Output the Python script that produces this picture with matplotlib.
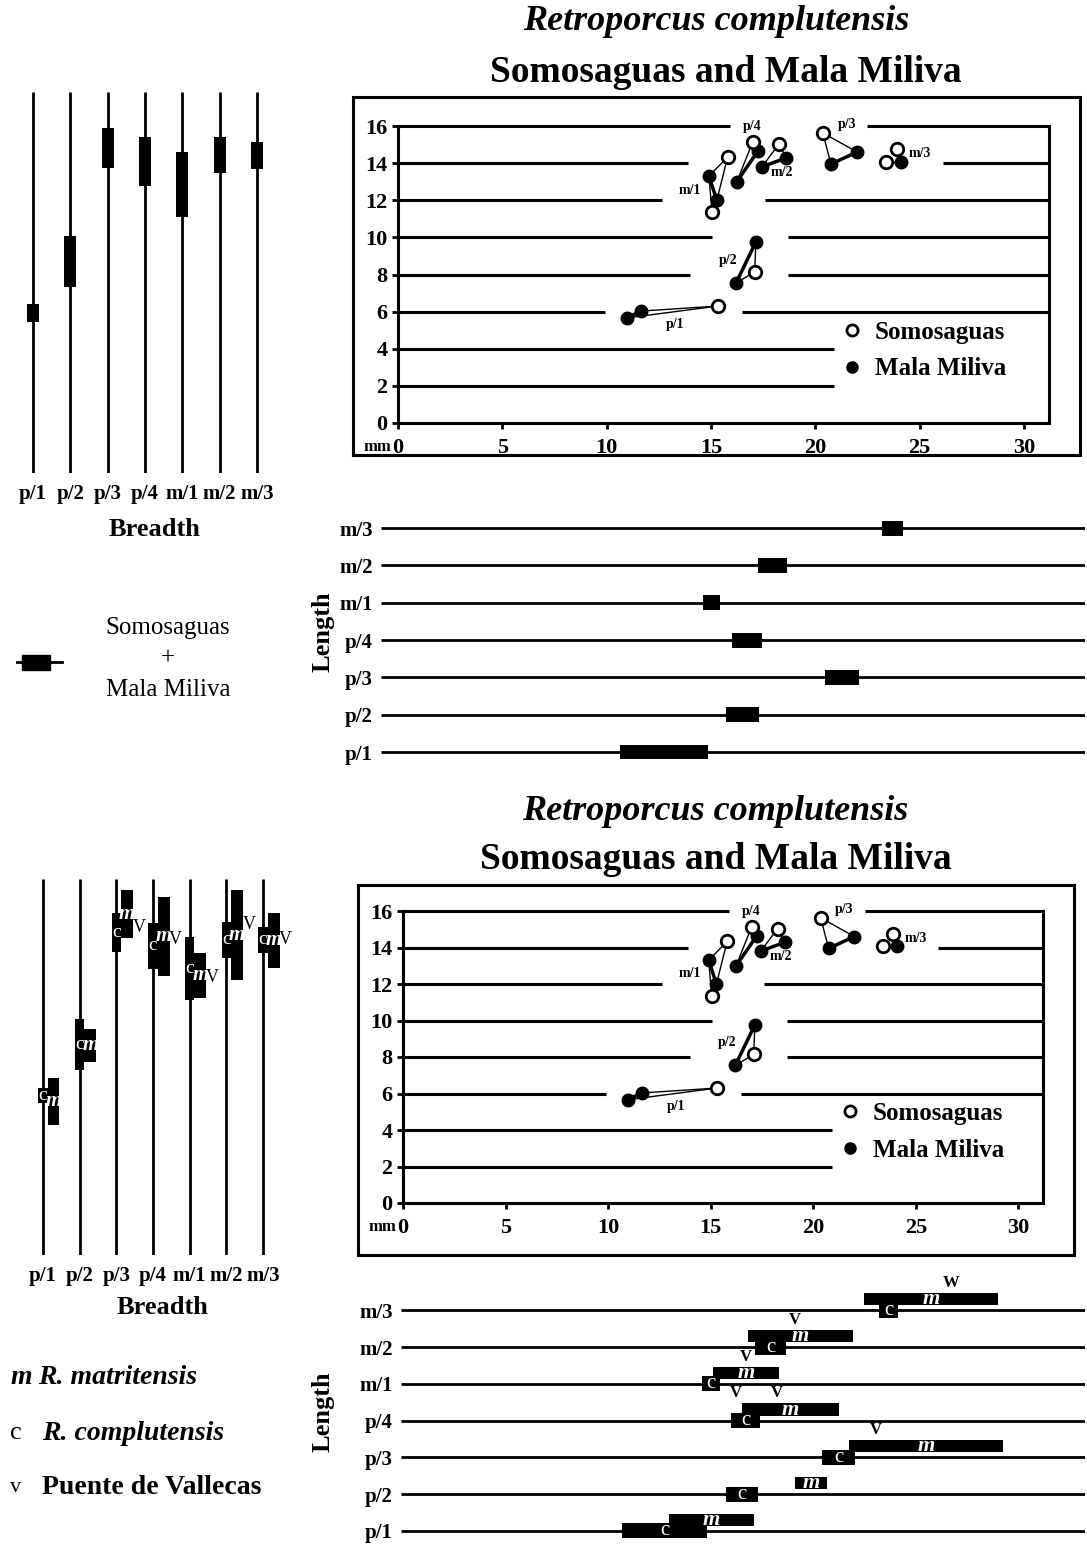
import matplotlib
matplotlib.use('Agg')
import matplotlib.pyplot as plt
from matplotlib.lines import Line2D
from matplotlib.patches import Rectangle

plt.rcParams['font.family'] = ['Liberation Serif', 'DejaVu Serif']

teeth = ['p/1', 'p/2', 'p/3', 'p/4', 'm/1', 'm/2', 'm/3']

# scatter: length (x) vs breadth (y), mm
somo_len = [[15.33], [17.10], [20.36], [17.00], [15.05, 15.80], [18.26], [23.90, 23.40]]
somo_br = [[6.30], [8.14], [15.63], [15.14], [11.35, 14.33], [15.03], [14.76, 14.06]]
mala_len = [[10.97, 11.64], [17.15, 16.20], [22.00, 20.75], [17.25, 16.24], [14.90, 15.28], [18.60, 17.44], [24.10]]
mala_br = [[5.66, 6.03], [9.75, 7.54], [14.60, 13.95], [14.65, 13.00], [13.30, 12.00], [14.28, 13.80], [14.06]]
label_x = [13.3, 15.8, 21.5, 16.96, 14.0, 18.4, 25.0]
label_y = [5.28, 8.78, 16.1, 15.95, 12.55, 13.52, 14.5]

# horizontal guide lines of the scatter (y, from, to)
grid_segs = [(16, 0, 15.9), (16, 22.5, 31.2), (14, 0, 13.9), (14, 26.1, 31.2),
             (12, 0, 12.65), (12, 17.6, 31.2), (10, 0, 15.05), (10, 18.7, 31.2),
             (8, 0, 14.0), (8, 18.7, 31.2), (6, 0, 9.9), (6, 16.5, 31.2),
             (4, 0, 20.9), (2, 0, 20.9)]

# Somosaguas + Mala Miliva ranges
breadth_lo = [5.44, 7.33, 13.74, 12.77, 11.10, 13.47, 13.69]
breadth_hi = [6.41, 10.08, 15.89, 15.41, 14.60, 15.41, 15.14]
length_lo = [10.65, 15.70, 20.45, 15.99, 14.60, 17.23, 23.20]
length_hi = [14.86, 17.28, 22.10, 17.46, 15.45, 18.66, 24.18]

# R. complutensis (c) and R. matritensis (m) ranges, Puente de Vallecas (v)
comp_br_lo = [5.48, 7.29, 13.75, 12.82, 11.12, 13.42, 13.70]
comp_br_hi = [6.30, 10.08, 15.89, 15.34, 14.58, 15.40, 15.12]
matr_br_lo = [4.27, 7.73, 14.52, 12.44, 11.23, 12.22, 12.88]
matr_br_hi = [6.85, 9.53, 17.15, 16.77, 13.70, 17.15, 15.89]
vall_br = [None, None, 15.07, 14.41, 12.38, 15.23, 14.41]

comp_len_lo = [10.68, 15.76, 20.44, 16.00, 14.59, 17.17, 23.22]
comp_len_hi = [14.83, 17.32, 22.05, 17.41, 15.46, 18.68, 24.15]
matr_len_lo = [12.98, 19.12, 21.76, 16.54, 15.12, 16.83, 22.49]
matr_len_hi = [17.12, 20.68, 29.27, 21.27, 18.34, 21.95, 29.02]
vall_len_tooth = [2, 3, 3, 4, 5, 6]
vall_len = [23.07, 16.24, 18.24, 16.73, 19.12, 26.73]
vall_len_mark = ['V', 'V', 'V', 'V', 'V', 'W']

W, H = 1087, 1546
fig = plt.figure(figsize=(W / 100, H / 100), dpi=100)


def box(x0, y0, x1, y1):
    return [x0 / W, 1 - y1 / H, (x1 - x0) / W, (y1 - y0) / H]


def ftext(x, y, s, **kw):
    fig.text(x / W, 1 - y / H, s, **kw)


def draw_scatter(frame_px, inner_px):
    fr = fig.add_axes(box(*frame_px))
    fr.set_xticks([])
    fr.set_yticks([])
    for s in fr.spines.values():
        s.set_linewidth(2.2)

    ax = fig.add_axes(box(*inner_px))
    ax.patch.set_alpha(0)
    ax.set_xlim(0, 31.2)
    ax.set_ylim(0, 16)
    ax.spines['top'].set_visible(False)
    for s in ['left', 'bottom', 'right']:
        ax.spines[s].set_linewidth(2.2)
    ax.set_xticks(range(0, 31, 5))
    ax.set_yticks(range(0, 17, 2))
    ax.tick_params(direction='out', length=4.5, width=2, labelsize=16, pad=3)
    ax.tick_params(axis='x', pad=6)
    for lab in ax.get_xticklabels() + ax.get_yticklabels():
        lab.set_fontweight('bold')
    ax.annotate('mm', xy=(0, 0), xytext=(-5, -17), textcoords='offset points',
                ha='right', va='center', fontsize=12, fontweight='bold')

    for y, x0, x1 in grid_segs:
        ax.plot([x0, x1], [y, y], color='k', lw=2.2, clip_on=False, solid_capstyle='butt')

    for sx, sy, mx, my in zip(somo_len, somo_br, mala_len, mala_br):
        for a, b in zip(sx, sy):
            for c, d in zip(mx, my):
                ax.plot([a, c], [b, d], color='k', lw=1, zorder=3)
        if len(mx) > 1:
            ax.plot(mx, my, color='k', lw=2.5, zorder=3)
        ax.plot(mx, my, 'o', color='k', ms=9, ls='none', zorder=4, clip_on=False)
        ax.plot(sx, sy, 'o', mfc='white', mec='k', mew=2, ms=9, ls='none', zorder=5, clip_on=False)

    for t, lx, ly in zip(teeth, label_x, label_y):
        ax.text(lx, ly, t, fontsize=10, fontweight='bold', ha='center', va='center')

    handles = [Line2D([], [], marker='o', ls='none', mfc='white', mec='k', mew=2, ms=8),
               Line2D([], [], marker='o', ls='none', color='k', ms=8)]
    ax.legend(handles, ['Somosaguas', 'Mala Miliva'], loc='center left',
              bbox_to_anchor=(20.7, 3.9), bbox_transform=ax.transData,
              frameon=False, prop={'size': 18, 'weight': 'bold'},
              handlelength=0.8, handletextpad=0.5, labelspacing=0.55, borderpad=0)


def breadth_axes(px, xlim, ylim):
    ax = fig.add_axes(box(*px))
    ax.patch.set_alpha(0)
    ax.set_xlim(xlim)
    ax.set_ylim(ylim)
    for s in ax.spines.values():
        s.set_visible(False)
    ax.set_yticks([])
    ax.set_xticks(range(7))
    ax.set_xticklabels(teeth, fontsize=15, fontweight='bold')
    ax.tick_params(axis='x', length=0, pad=8)
    ax.vlines(range(7), ylim[0], ylim[1], color='k', lw=2)
    return ax


def length_axes(px, xlim, ylim):
    ax = fig.add_axes(box(*px))
    ax.patch.set_alpha(0)
    ax.set_xlim(xlim)
    ax.set_ylim(ylim)
    for s in ax.spines.values():
        s.set_visible(False)
    ax.set_xticks([])
    ax.set_yticks(range(7))
    ax.set_yticklabels(teeth, fontsize=15, fontweight='bold')
    ax.tick_params(axis='y', length=0, pad=6)
    ax.hlines(range(7), xlim[0], xlim[1], color='k', lw=2)
    return ax


pos = list(range(7))

# ---------------- top half ----------------
ftext(716, 30, 'Retroporcus complutensis', fontsize=26, fontweight='bold',
      style='italic', ha='center', va='baseline')
ftext(726, 82, 'Somosaguas and Mala Miliva', fontsize=27, fontweight='bold',
      ha='center', va='baseline')
draw_scatter((353, 97, 1080, 455), (398, 126, 1049, 423))

ax_b = breadth_axes((10, 92, 290, 473), (-0.616, 6.885), (-2.69, 17.83))
ax_b.bar(pos, [h - l for l, h in zip(breadth_lo, breadth_hi)], bottom=breadth_lo,
         width=0.32, color='k', zorder=3)
ftext(155, 530, 'Breadth', fontsize=19, fontweight='bold', ha='center', va='center')

ax_l = length_axes((381, 505, 1085, 772), (-0.815, 32.92), (-0.536, 6.62))
ax_l.barh(pos, [h - l for l, h in zip(length_lo, length_hi)], left=length_lo,
          height=0.4, color='k', zorder=3)
ftext(323, 632, 'Length', fontsize=19, fontweight='bold', rotation=90,
      ha='center', va='center')

fig.add_artist(Line2D([17 / W, 62 / W], [1 - 662 / H, 1 - 662 / H], color='k', lw=2))
fig.add_artist(Rectangle((22 / W, 1 - 670 / H), 28 / W, 15 / H, color='k'))
ftext(168, 628, 'Somosaguas', fontsize=18, ha='center', va='center')
ftext(168, 659, '+', fontsize=18, ha='center', va='center')
ftext(168, 690, 'Mala Miliva', fontsize=18, ha='center', va='center')

# ---------------- bottom half ----------------
ftext(715, 820, 'Retroporcus complutensis', fontsize=26, fontweight='bold',
      style='italic', ha='center', va='baseline')
ftext(716, 869, 'Somosaguas and Mala Miliva', fontsize=27, fontweight='bold',
      ha='center', va='baseline')
draw_scatter((358, 885, 1074, 1255), (403, 911, 1043, 1203))

ax_b2 = breadth_axes((20, 879, 290, 1255), (-0.627, 6.736), (-2.85, 17.75))
ax_b2.bar(pos, [h - l for l, h in zip(comp_br_lo, comp_br_hi)], bottom=comp_br_lo,
          width=0.26, color='k', zorder=3)
ax_b2.bar([p + 0.29 for p in pos], [h - l for l, h in zip(matr_br_lo, matr_br_hi)],
          bottom=matr_br_lo, width=0.32, color='k', zorder=3)
for p, cl, ch, ml, mh, v in zip(pos, comp_br_lo, comp_br_hi, matr_br_lo, matr_br_hi, vall_br):
    ax_b2.text(p, (cl + ch) / 2, 'c', color='white', fontsize=14, ha='center',
               va='center', zorder=5)
    ax_b2.text(p + 0.29, (ml + mh) / 2, 'm', color='white', fontsize=15, style='italic',
               fontweight='bold', ha='center', va='center', zorder=5)
    if v is not None:
        ax_b2.text(p + 0.62, v, 'V', color='k', fontsize=13, ha='center', va='center',
                   zorder=5)
ftext(163, 1308, 'Breadth', fontsize=19, fontweight='bold', ha='center', va='center')

ax_l2 = length_axes((401, 1272, 1085, 1546), (-0.098, 33.27), (-0.41, 7.04))
ax_l2.barh(pos, [h - l for l, h in zip(comp_len_lo, comp_len_hi)], left=comp_len_lo,
           height=0.41, color='k', zorder=3)
ax_l2.barh([p + 0.3 for p in pos], [h - l for l, h in zip(matr_len_lo, matr_len_hi)],
           left=matr_len_lo, height=0.33, color='k', zorder=3)
for p, cl, ch, ml, mh in zip(pos, comp_len_lo, comp_len_hi, matr_len_lo, matr_len_hi):
    ax_l2.text((cl + ch) / 2, p, 'c', color='white', fontsize=15, ha='center',
               va='center', zorder=5)
    ax_l2.text((ml + mh) / 2, p + 0.3, 'm', color='white', fontsize=16, style='italic',
               fontweight='bold', ha='center', va='center', zorder=5)
for t, v, s in zip(vall_len_tooth, vall_len, vall_len_mark):
    ax_l2.text(v, t + 0.74, s, color='k', fontsize=12, fontweight='bold',
               ha='center', va='center', zorder=5)
ftext(323, 1412, 'Length', fontsize=19, fontweight='bold', rotation=90,
      ha='center', va='center')

ftext(10, 1378, 'm', fontsize=20, fontweight='bold', style='italic', va='center')
ftext(38, 1378, 'R. matritensis', fontsize=20, fontweight='bold', style='italic', va='center')
ftext(10, 1433, 'c', fontsize=19, va='center')
ftext(42, 1433, 'R. complutensis', fontsize=20, fontweight='bold', style='italic', va='center')
ftext(10, 1487, 'v', fontsize=16, va='center')
ftext(42, 1487, 'Puente de Vallecas', fontsize=20, fontweight='bold', va='center')

fig.savefig('out.png', dpi=100)
